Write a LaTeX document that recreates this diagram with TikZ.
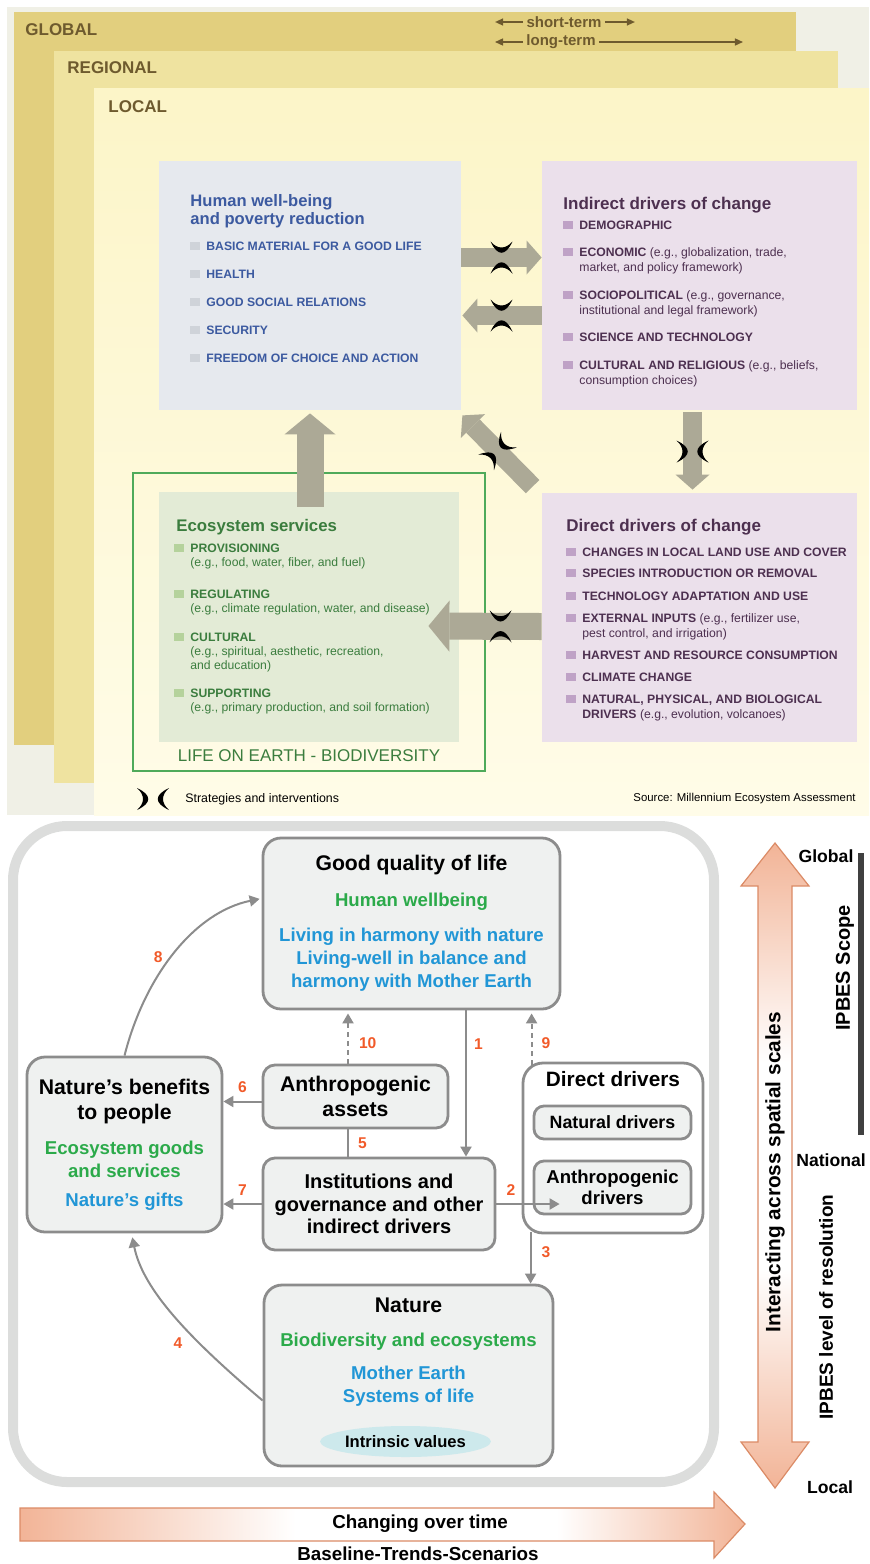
\documentclass[tikz,border=0pt]{standalone}
\usepackage{fontspec}
\setmainfont{Liberation Sans}
\usetikzlibrary{arrows.meta, positioning, calc, shapes.geometric}

\definecolor{bgc}{HTML}{F0F0E6}
\definecolor{glob}{HTML}{E2CF7E}
\definecolor{regc}{HTML}{EFE3A0}
\definecolor{loctop}{HTML}{FCF5C8}
\definecolor{locbot}{HTML}{FFFCE8}
\definecolor{brn}{HTML}{6E5A2E}
\definecolor{hwfill}{HTML}{E6E9EE}
\definecolor{hblue}{HTML}{3C5AA0}
\definecolor{hsq}{HTML}{CFD3D9}
\definecolor{pfill}{HTML}{EBE0EB}
\definecolor{ptxt}{HTML}{4D3050}
\definecolor{psq}{HTML}{BFA2C6}
\definecolor{efill}{HTML}{E3EBD6}
\definecolor{eframe}{HTML}{4FAA5A}
\definecolor{etxt}{HTML}{3B7D3E}
\definecolor{esq}{HTML}{B5D29C}
\definecolor{taupe}{HTML}{ACA996}
\definecolor{bgray}{HTML}{8C8C8C}
\definecolor{boxfill}{HTML}{EFF1F0}
\definecolor{tgreen}{HTML}{2BAA4A}
\definecolor{tblue}{HTML}{2196D6}
\definecolor{numred}{HTML}{F15A29}
\definecolor{frame}{HTML}{DCDDDC}
\definecolor{ivfill}{HTML}{CDE9EC}
\definecolor{peach}{HTML}{F2B497}
\definecolor{peachline}{HTML}{DB8B66}
\definecolor{barc}{HTML}{404040}

\pgfdeclarehorizontalshading{peachh}{100bp}{color(0bp)=(peach); color(25bp)=(peach); color(44bp)=(white); color(62bp)=(white); color(75bp)=(peach); color(100bp)=(peach)}
\pgfdeclareverticalshading{peachv}{100bp}{color(0bp)=(peach); color(25bp)=(peach); color(42bp)=(white); color(58bp)=(white); color(75bp)=(peach); color(100bp)=(peach)}

\newcommand{\bul}[1]{\llap{\textcolor{#1}{\rule[0.2pt]{5pt}{4pt}}\hspace{3pt}}}

\tikzset{
  lay/.style={anchor=west, inner sep=0pt, text=brn, font=\bfseries\fontsize{8.5}{10}\selectfont},
  ttl/.style={anchor=base west, inner sep=0pt, align=left, font=\bfseries\fontsize{8.5}{7.8}\selectfont},
  itm/.style={anchor=base west, inner sep=0pt, align=left, font=\bfseries\fontsize{6.1}{7.5}\selectfont},
  bigarrow/.style={draw=taupe, line width=9.5pt, -{Triangle[length=7.5pt, width=17pt, line width=0pt]}},
  bigarrowb/.style={draw=taupe, line width=13.5pt, -{Triangle[length=10.5pt, width=25.5pt, line width=0pt]}},
  strat/.pic={
    \fill (-16,-11) .. controls (-1,-4) and (-1,4) .. (-16,11) .. controls (-8,4) and (-8,-4) .. cycle;
    \fill (16,-11) .. controls (1,-4) and (1,4) .. (16,11) .. controls (8,4) and (8,-4) .. cycle;
  },
  box/.style={draw=bgray, line width=1.4pt, fill=boxfill, rounded corners=9pt, align=center, inner sep=0pt, font=\bfseries\fontsize{9.3}{11.5}\selectfont},
  con/.style={draw=bgray, line width=1pt, -{Triangle[length=5pt, width=5.5pt]}},
  dcon/.style={con, dash pattern=on 2.5pt off 2pt},
  num/.style={text=numred, inner sep=0pt, font=\bfseries\fontsize{7.8}{9}\selectfont},
  scl/.style={inner sep=0pt, font=\bfseries\fontsize{8.8}{10}\selectfont},
}

\begin{document}
\begin{tikzpicture}[x=0.5pt, y=-0.5pt]
\useasboundingbox (0,0) rectangle (869,1564);

% scale layers
\fill[bgc] (7,7) rectangle (869,815);
\fill[glob] (14,12) rectangle (796,745);
\fill[regc] (54,51) rectangle (838,783);
\shade[top color=loctop, bottom color=locbot] (94,88) rectangle (869,815);

\node[lay] (gl) at (25,30) {GLOBAL};
\node[lay] (rg) at (67,68) {REGIONAL};
\node[lay] (lc) at (108,107) {LOCAL};
\node[inner sep=1.5pt, text=brn, font=\bfseries\fontsize{7.5}{9}\selectfont] (st) at (564,22) {short-term};
\node[inner sep=1.5pt, text=brn, font=\bfseries\fontsize{7.5}{9}\selectfont] (lt) at (561,42) {long-term};
\draw[brn, line width=0.7pt, -{Triangle[length=4pt, width=3.5pt]}] (st.west) -- ++(-28,0);
\draw[brn, line width=0.7pt, -{Triangle[length=4pt, width=3.5pt]}] (st.east) -- ++(30,0);
\draw[brn, line width=0.7pt, -{Triangle[length=4pt, width=3.5pt]}] (lt.west) -- ++(-28,0);
\draw[brn, line width=0.7pt, -{Triangle[length=4pt, width=3.5pt]}] (lt.east) -- ++(144,0);

% boxes
\node[draw=eframe, line width=1.3pt, minimum width=176pt, minimum height=149pt, inner sep=0pt] (life) at (309,622) {};
\node[fill=hwfill, minimum width=151pt, minimum height=124.5pt, inner sep=0pt] (hwb) at (310,285.5) {};
\node[fill=pfill, minimum width=157.5pt, minimum height=124.5pt, inner sep=0pt] (idc) at (699.5,285.5) {};
\node[fill=pfill, minimum width=157.5pt, minimum height=124.5pt, inner sep=0pt] (ddc) at (699.5,617.5) {};
\node[fill=efill, minimum width=150pt, minimum height=125pt, inner sep=0pt] (es) at (309,617) {};

% block arrows
\draw[bigarrow] ($(hwb.east)+(0,-28)$) -- ($(idc.west)+(0,-28)$);
\draw[bigarrow] ($(idc.west)+(0,30)$) -- ($(hwb.east)+(1,30)$);
\draw[bigarrowb] ($(es.north)+(1,15)$) -- ($(hwb.south)+(0,3)$);
\draw[bigarrow] ($(ddc.north west)+(-9,-6)$) coordinate (dg1) -- ($(hwb.south east)+(1,5)$) coordinate (dg2);
\draw[bigarrow] ($(idc.south)+(-7,2)$) -- ($(ddc.north)+(-7,-3)$);
\draw[bigarrowb] ($(ddc.west)+(0,9)$) -- ($(es.east)+(-31,9)$);

\pic[rotate=90] at ($(hwb.east)!0.5!(idc.west)+(0,-28)$) {strat};
\pic[rotate=90] at ($(hwb.east)!0.5!(idc.west)+(0,30)$) {strat};
\pic at ($(idc.south)!0.5!(ddc.north)+(-7,0)$) {strat};
\pic[rotate=45] at ($(dg1)!0.5!(dg2)$) {strat};
\pic[rotate=90] at ($(ddc.west)!0.5!(es.east)+(0,9)$) {strat};
\pic at (153,799) {strat};

% texts
\node[ttl, text=hblue, font=\bfseries\fontsize{8.3}{7.6}\selectfont] (hwt) at (190,224) {Human well-being\\and poverty reduction};
\node[itm, text=hblue] (h1) at (206,250) {\bul{hsq}BASIC MATERIAL FOR A GOOD LIFE};
\node[itm, text=hblue] (h2) at (206,278) {\bul{hsq}HEALTH};
\node[itm, text=hblue] (h3) at (206,306) {\bul{hsq}GOOD SOCIAL RELATIONS};
\node[itm, text=hblue] (h4) at (206,334) {\bul{hsq}SECURITY};
\node[itm, text=hblue] (h5) at (206,362) {\bul{hsq}FREEDOM OF CHOICE AND ACTION};

\node[ttl, text=ptxt] (idt) at (563,209) {Indirect drivers of change};
\node[itm, text=ptxt] (i1) at (579,229.5) {\bul{psq}DEMOGRAPHIC};
\node[itm, text=ptxt] (i2) at (579,271.5) {\bul{psq}ECONOMIC \textmd{(e.g., globalization, trade,}\\\textmd{market, and policy framework)}};
\node[itm, text=ptxt] (i3) at (579,314.5) {\bul{psq}SOCIOPOLITICAL \textmd{(e.g., governance,}\\\textmd{institutional and legal framework)}};
\node[itm, text=ptxt] (i4) at (579,341.5) {\bul{psq}SCIENCE AND TECHNOLOGY};
\node[itm, text=ptxt] (i5) at (579,384.5) {\bul{psq}CULTURAL AND RELIGIOUS \textmd{(e.g., beliefs,}\\\textmd{consumption choices)}};

\node[ttl, text=ptxt] (ddt) at (566,531) {Direct drivers of change};
\node[itm, text=ptxt] (d1) at (582,556.5) {\bul{psq}CHANGES IN LOCAL LAND USE AND COVER};
\node[itm, text=ptxt] (d2) at (582,577.5) {\bul{psq}SPECIES INTRODUCTION OR REMOVAL};
\node[itm, text=ptxt] (d3) at (582,600) {\bul{psq}TECHNOLOGY ADAPTATION AND USE};
\node[itm, text=ptxt] (d4) at (582,637.5) {\bul{psq}EXTERNAL INPUTS \textmd{(e.g., fertilizer use,}\\\textmd{pest control, and irrigation)}};
\node[itm, text=ptxt] (d5) at (582,659.5) {\bul{psq}HARVEST AND RESOURCE CONSUMPTION};
\node[itm, text=ptxt] (d6) at (582,681.5) {\bul{psq}CLIMATE CHANGE};
\node[itm, text=ptxt] (d7) at (582,718.5) {\bul{psq}NATURAL, PHYSICAL, AND BIOLOGICAL\\DRIVERS \textmd{(e.g., evolution, volcanoes)}};

\node[ttl, text=etxt, font=\bfseries\fontsize{8.4}{7.8}\selectfont] (est) at (176,531) {Ecosystem services};
\node[itm, text=etxt, font=\bfseries\fontsize{6.1}{7}\selectfont] (e1) at (190,566.5) {\bul{esq}PROVISIONING\\\textmd{(e.g., food, water, fiber, and fuel)}};
\node[itm, text=etxt, font=\bfseries\fontsize{6.1}{7}\selectfont] (e2) at (190,612.5) {\bul{esq}REGULATING\\\textmd{(e.g., climate regulation, water, and disease)}};
\node[itm, text=etxt, font=\bfseries\fontsize{6.1}{7}\selectfont] (e3) at (190,669.5) {\bul{esq}CULTURAL\\\textmd{(e.g., spiritual, aesthetic, recreation,}\\\textmd{and education)}};
\node[itm, text=etxt, font=\bfseries\fontsize{6.1}{7}\selectfont] (e4) at (190,711.5) {\bul{esq}SUPPORTING\\\textmd{(e.g., primary production, and soil formation)}};
\node[text=etxt, inner sep=0pt, font=\fontsize{8.5}{10}\selectfont] (loe) at (309,756) {LIFE ON EARTH - BIODIVERSITY};

\node[anchor=west, inner sep=0pt, font=\fontsize{6.2}{7}\selectfont] (leg) at (185,799) {Strategies and interventions};
\node[anchor=east, inner sep=0pt, font=\fontsize{5.7}{7}\selectfont] (src) at (856,799) {Source: Millennium Ecosystem Assessment};

% conceptual framework
\draw[frame, line width=5pt, rounded corners=27pt] (13,826) rectangle (714,1482);

\node[box, minimum width=148.5pt, minimum height=85.5pt] (gq) at (411.5,923.5)
  {{\fontsize{10.6}{11.5}\selectfont Good quality of life}\\[6.5pt]
   \textcolor{tgreen}{Human wellbeing}\\[6pt]
   \textcolor{tblue}{Living in harmony with nature}\\
   \textcolor{tblue}{Living-well in balance and}\\
   \textcolor{tblue}{harmony with Mother Earth}};
\node[box, minimum width=97.5pt, minimum height=87.5pt] (nbp) at (124.5,1144.5)
  {{\fontsize{10.6}{11.5}\selectfont Nature’s benefits}\\[1pt]
   {\fontsize{10.6}{11.5}\selectfont to people}\\[6pt]
   \textcolor{tgreen}{Ecosystem goods}\\
   \textcolor{tgreen}{and services}\\[3pt]
   \textcolor{tblue}{Nature’s gifts}};
\node[box, rounded corners=6pt, minimum width=92.5pt, minimum height=31.5pt, font=\bfseries\fontsize{10.6}{12.5}\selectfont] (aa) at (355.5,1096.5) {Anthropogenic\\assets};
\node[box, rounded corners=6pt, minimum width=116pt, minimum height=46pt, font=\bfseries\fontsize{10}{11.3}\selectfont] (ins) at (379,1204) {Institutions and\\governance and other\\indirect drivers};
\node[box, fill=white, rounded corners=10pt, minimum width=90pt, minimum height=85pt] (dd) at (613,1148) {};
\node[below=4.8pt of dd.north, inner sep=0pt, font=\bfseries\fontsize{10.4}{12}\selectfont] (ddtt) {Direct drivers};
\node[box, rounded corners=5pt, minimum width=78.5pt, minimum height=16.5pt, font=\bfseries\fontsize{8.9}{10}\selectfont] (nd) at (612.5,1122.5) {Natural drivers};
\node[box, rounded corners=5pt, minimum width=78.5pt, minimum height=26.5pt, font=\bfseries\fontsize{9.3}{10.5}\selectfont] (ad) at (612.5,1187.5) {Anthropogenic\\drivers};
\node[box, minimum width=144.5pt, minimum height=90.5pt] (nat) at (408.5,1375.5) {};
\node[below=7pt of nat.north, align=center, inner sep=0pt, font=\bfseries\fontsize{9.3}{11.5}\selectfont] (natt)
  {{\fontsize{10.6}{11.5}\selectfont Nature}\\[5.5pt]
   \textcolor{tgreen}{Biodiversity and ecosystems}\\[5pt]
   \textcolor{tblue}{Mother Earth}\\
   \textcolor{tblue}{Systems of life}};
\node[ellipse, fill=ivfill, minimum width=84.5pt, minimum height=15.5pt, inner sep=0pt, font=\bfseries\fontsize{8.3}{10}\selectfont] (iv) at (405.5,1441.5) {Intrinsic values};

% links
\draw[con] ($(gq.south)+(54.5,0)$) coordinate (c1) -- (c1 |- ins.north) node[num, pos=0.23, right=3.5pt] (n1) {1};
\draw[dcon, shorten >=1.5pt] ($(aa.north)+(-7.5,0)$) coordinate (c10) -- (c10 |- gq.south) node[num, pos=0.39, right=5pt] (n10) {10};
\draw[dcon, shorten >=1.5pt] ($(dd.north west)+(10,3)$) coordinate (c9) -- (c9 |- gq.south) node[num, pos=0.4, right=4.5pt] (n9) {9};
\draw[con] ($(aa.west)+(0,5)$) coordinate (c6) -- (c6 -| nbp.east) node[num, midway, above=4pt] (n6) {6};
\draw[bgray, line width=1pt] ($(aa.south)+(-7.5,0)$) coordinate (c5) -- (c5 |- ins.north) node[num, midway, right=4.5pt] (n5) {5};
\draw[con] (ins.west) -- (ins.west -| nbp.east) node[num, midway, above=4pt] (n7) {7};
\draw[con] (ins.east) -- ($(ins.east -| ad.west)+(27,0)$) node[num, pos=0.23, above=4pt] (n2) {2};
\draw[con] ($(dd.south west)+(9,-2)$) coordinate (c3) -- (c3 |- nat.north) node[num, pos=0.38, right=5pt] (n3) {3};
\draw[con, shorten >=1pt] (nbp.north) .. controls (145,975) and (195,912) .. ($(gq.west)+(0,-25)$) node[num, pos=0.47, left=4pt] (n8) {8};
\draw[con, shorten >=2pt] ($(nat.west)+(0,25)$) .. controls (179,1330) and (142,1285) .. ($(nbp.south)+(7,0)$) node[num, pos=0.3, left=8pt] (n4) {4};

% spatial scale
\shade[shading=peachv, draw=peachline, line width=0.6pt] (775,843) -- (809,886) -- (792,886) -- (792,1442) -- (809,1442) -- (775,1488) -- (741,1442) -- (758,1442) -- (758,886) -- (741,886) -- cycle;
\node[rotate=90, inner sep=0pt, font=\bfseries\fontsize{10.4}{12}\selectfont] (isc) at (775,1172) {Interacting across spatial scales};
\node[scl] (glb) at (826,856) {Global};
\node[scl] (ntl) at (831,1160) {National};
\node[scl] (lcl) at (830,1487) {Local};
\draw[barc, line width=2.6pt] (861,853) -- (861,1135);
\node[rotate=90, inner sep=0pt, font=\bfseries\fontsize{10}{12}\selectfont] (scp) at (845,968) {IPBES Scope};
\node[rotate=90, inner sep=0pt, font=\bfseries\fontsize{9.5}{12}\selectfont] (res) at (826,1307) {IPBES level of resolution};

% time
\shade[shading=peachh, draw=peachline, line width=0.6pt] (20,1508) -- (714,1508) -- (714,1492) -- (745,1524) -- (714,1558) -- (714,1541) -- (20,1541) -- cycle;
\node[inner sep=0pt, font=\bfseries\fontsize{9.4}{11}\selectfont] (cot) at (420,1524) {Changing over time};
\node[inner sep=0pt, font=\bfseries\fontsize{9.4}{11}\selectfont] (bts) at (418,1554) {Baseline-Trends-Scenarios};
\end{tikzpicture}
\end{document}
